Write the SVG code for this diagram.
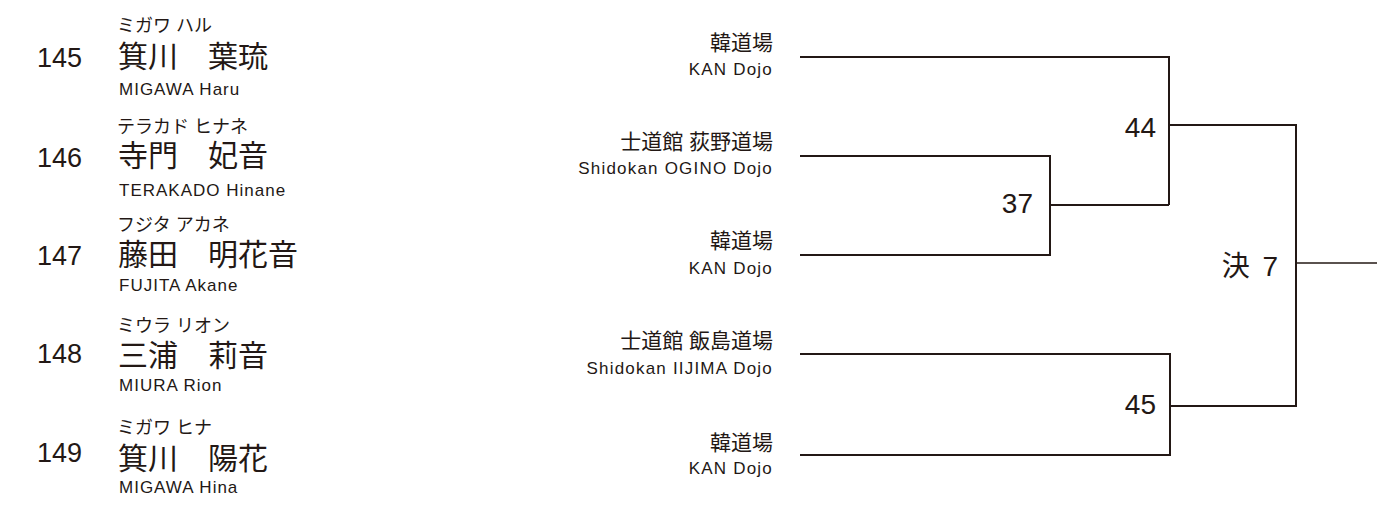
<svg xmlns="http://www.w3.org/2000/svg" width="1395" height="506" viewBox="0 0 1395 506">
<style>
text{fill:#231815;font-family:"Liberation Sans","Noto Sans CJK JP",sans-serif}
.num{font-size:27px}
.kj{font-size:30px}
.kana{font-size:18px}
.en{font-size:17px;letter-spacing:1px}
.dk{font-size:21px;text-anchor:end}
.de{font-size:17px;letter-spacing:1.2px;text-anchor:end}
.mn{font-size:28px;text-anchor:end}
.ln{fill:none;stroke:#231815;stroke-width:2}
</style>
<rect width="1395" height="506" fill="#fff"/>
<g id="p145"><text class="num" x="37" y="67">145</text><text class="kana" x="117" y="32">ミガワ ハル</text><text class="kj" x="118" y="67">箕川　葉琉</text><text class="en" x="119" y="95">MIGAWA Haru</text></g>
<g id="p146"><text class="num" x="37" y="167">146</text><text class="kana" x="117" y="133">テラカド ヒナネ</text><text class="kj" x="118" y="166">寺門　妃音</text><text class="en" x="119" y="196">TERAKADO Hinane</text></g>
<g id="p147"><text class="num" x="37" y="265">147</text><text class="kana" x="117" y="231">フジタ アカネ</text><text class="kj" x="118" y="265">藤田　明花音</text><text class="en" x="119" y="291">FUJITA Akane</text></g>
<g id="p148"><text class="num" x="37" y="363">148</text><text class="kana" x="117" y="332">ミウラ リオン</text><text class="kj" x="118" y="366">三浦　莉音</text><text class="en" x="119" y="391">MIURA Rion</text></g>
<g id="p149"><text class="num" x="37" y="462">149</text><text class="kana" x="117" y="434">ミガワ ヒナ</text><text class="kj" x="118" y="469">箕川　陽花</text><text class="en" x="119" y="493">MIGAWA Hina</text></g>
<g id="d1"><text class="dk" x="773" y="50">韓道場</text><text class="de" x="773" y="75">KAN Dojo</text></g>
<g id="d2"><text class="dk" x="773" y="149">士道館 荻野道場</text><text class="de" x="773" y="174">Shidokan OGINO Dojo</text></g>
<g id="d3"><text class="dk" x="773" y="248">韓道場</text><text class="de" x="773" y="274">KAN Dojo</text></g>
<g id="d4"><text class="dk" x="773" y="348">士道館 飯島道場</text><text class="de" x="773" y="374">Shidokan IIJIMA Dojo</text></g>
<g id="d5"><text class="dk" x="773" y="450">韓道場</text><text class="de" x="773" y="474">KAN Dojo</text></g>
<g id="m37"><text class="mn" x="1033" y="213">37</text></g>
<g id="m44"><text class="mn" x="1156" y="137">44</text></g>
<g id="m45"><text class="mn" x="1156" y="414">45</text></g>
<g id="final"><text class="mn" x="1278" y="276">決<tspan dx="5"> 7</tspan></text></g>
<g id="connectors" class="ln">
<path class="ln" d="M800 57H1169V205"/>
<path class="ln" d="M800 156H1050V255H800"/>
<path class="ln" d="M1050 205H1169"/>
<path class="ln" d="M1169 125H1296V406H1170"/>
<path class="ln" d="M800 354H1170V455H800"/>
<path class="ln" d="M1296 263H1377" style="stroke-width:1.6"/>
</g>
</svg>
